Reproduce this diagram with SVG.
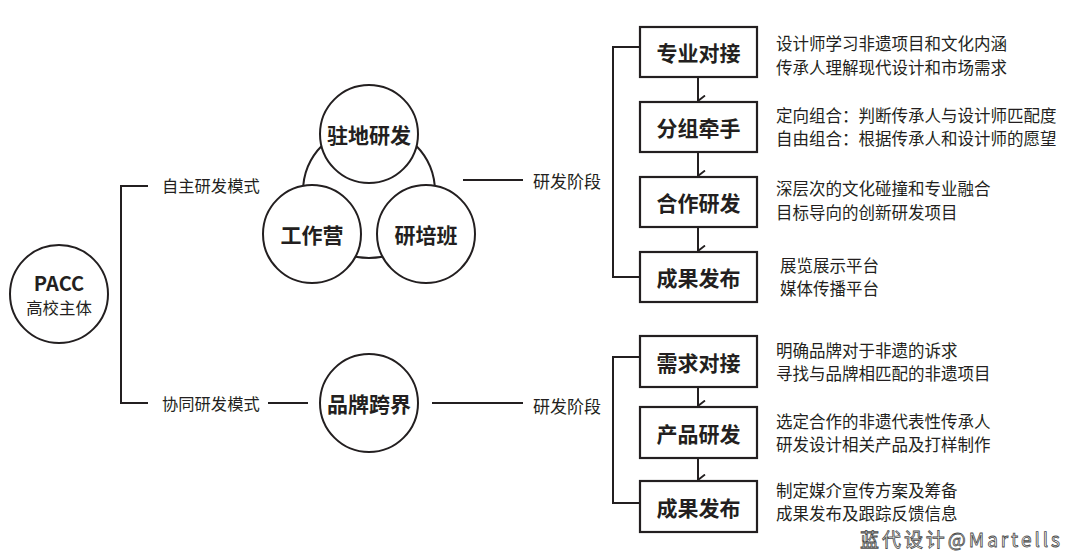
<svg xmlns="http://www.w3.org/2000/svg" width="1068" height="551" viewBox="0 0 1068 551">
<defs>
<style>
.ln{fill:none;stroke:#231f20;stroke-width:2}
.c{fill:#fff;stroke:#231f20;stroke-width:2}
.bx{fill:#fff;stroke:#231f20;stroke-width:2.2}
text{font-family:"Noto Sans CJK SC","Noto Sans",sans-serif;fill:#231f20;dominant-baseline:central}
.hb{font-size:21px;font-weight:700;text-anchor:middle}
.lb{font-size:16.3px}
.ds{font-size:16.5px}
</style>
<marker id="ar" viewBox="0 0 12 8" refX="6" refY="7.5" markerWidth="12" markerHeight="8" markerUnits="userSpaceOnUse" orient="auto-start-reverse">
<path d="M0.5,0.5 L6,7.5 L11.5,0.5" fill="none" stroke="#231f20" stroke-width="1.8"/>
</marker>
</defs>
<rect width="1068" height="551" fill="#fff"/>
<g id="connectors">
<path class="ln" d="M148,186 H121 V403 H148"/>
<path class="ln" d="M268,403 H308"/>
<path class="ln" d="M432,403 H523"/>
<path class="ln" d="M463,180 H523"/>
<path class="ln" d="M640,47 H613 V277 H640"/>
<path class="ln" d="M640,357 H613 V503 H640"/>
<line class="ln" x1="698" y1="78" x2="698" y2="101" marker-end="url(#ar)"/>
<line class="ln" x1="698" y1="153" x2="698" y2="176" marker-end="url(#ar)"/>
<line class="ln" x1="698" y1="228" x2="698" y2="251" marker-end="url(#ar)"/>
<line class="ln" x1="698" y1="388" x2="698" y2="406" marker-end="url(#ar)"/>
<line class="ln" x1="698" y1="459" x2="698" y2="480" marker-end="url(#ar)"/>
</g>
<g id="pacc">
<circle class="c" cx="59" cy="294" r="49"/>
<text x="59" y="282" style="font-size:20px;font-weight:700;text-anchor:middle">PACC</text>
<text x="59" y="307" style="font-size:16.4px;text-anchor:middle">高校主体</text>
</g>
<g id="label-zizhu"><text class="lb" x="162" y="185">自主研发模式</text></g>
<g id="label-xietong"><text class="lb" x="162" y="403">协同研发模式</text></g>
<g id="trio">
<circle class="ln" cx="369" cy="192" r="66"/>
<g id="zhudi"><circle class="c" cx="369" cy="134" r="49"/><text class="hb" x="369" y="134">驻地研发</text></g>
<g id="gongzuoying"><circle class="c" cx="312" cy="234" r="49"/><text class="hb" x="312" y="234">工作营</text></g>
<g id="yanpeiban"><circle class="c" cx="426" cy="234" r="49"/><text class="hb" x="426" y="234">研培班</text></g>
</g>
<g id="pinpai"><circle class="c" cx="369" cy="403" r="49"/><text class="hb" x="369" y="403">品牌跨界</text></g>
<g id="label-stage1"><text x="533" y="180" style="font-size:17px">研发阶段</text></g>
<g id="label-stage2"><text x="533" y="405" style="font-size:17px">研发阶段</text></g>
<g id="s1"><rect class="bx" x="640" y="27" width="117" height="50"/><text class="hb" x="698.5" y="52">专业对接</text></g>
<g id="s2"><rect class="bx" x="640" y="102" width="117" height="50"/><text class="hb" x="698.5" y="127">分组牵手</text></g>
<g id="s3"><rect class="bx" x="640" y="177" width="117" height="50"/><text class="hb" x="698.5" y="202">合作研发</text></g>
<g id="s4"><rect class="bx" x="640" y="252" width="117" height="50"/><text class="hb" x="698.5" y="277">成果发布</text></g>
<g id="t1"><rect class="bx" x="640" y="336" width="117" height="51"/><text class="hb" x="698.5" y="361.5">需求对接</text></g>
<g id="t2"><rect class="bx" x="640" y="407" width="117" height="51"/><text class="hb" x="698.5" y="432.5">产品研发</text></g>
<g id="t3"><rect class="bx" x="640" y="481" width="117" height="51"/><text class="hb" x="698.5" y="506.5">成果发布</text></g>
<g id="desc">
<text class="ds" x="776" y="43">设计师学习非遗项目和文化内涵</text>
<text class="ds" x="776" y="67">传承人理解现代设计和市场需求</text>
<text class="ds" x="776" y="115">定向组合：判断传承人与设计师匹配度</text>
<text class="ds" x="776" y="138">自由组合：根据传承人和设计师的愿望</text>
<text class="ds" x="776" y="188">深层次的文化碰撞和专业融合</text>
<text class="ds" x="776" y="212">目标导向的创新研发项目</text>
<text class="ds" x="780" y="265">展览展示平台</text>
<text class="ds" x="780" y="288">媒体传播平台</text>
<text class="ds" x="776" y="350">明确品牌对于非遗的诉求</text>
<text class="ds" x="776" y="373">寻找与品牌相匹配的非遗项目</text>
<text class="ds" x="776" y="421">选定合作的非遗代表性传承人</text>
<text class="ds" x="776" y="444">研发设计相关产品及打样制作</text>
<text class="ds" x="776" y="490">制定媒介宣传方案及筹备</text>
<text class="ds" x="776" y="513">成果发布及跟踪反馈信息</text>
</g>
<g id="watermark"><text x="860" y="538" textLength="200" style="font-size:19px;fill:#fff;stroke:#4a4a4a;stroke-width:0.8">蓝代设计@Martells</text></g>
</svg>
